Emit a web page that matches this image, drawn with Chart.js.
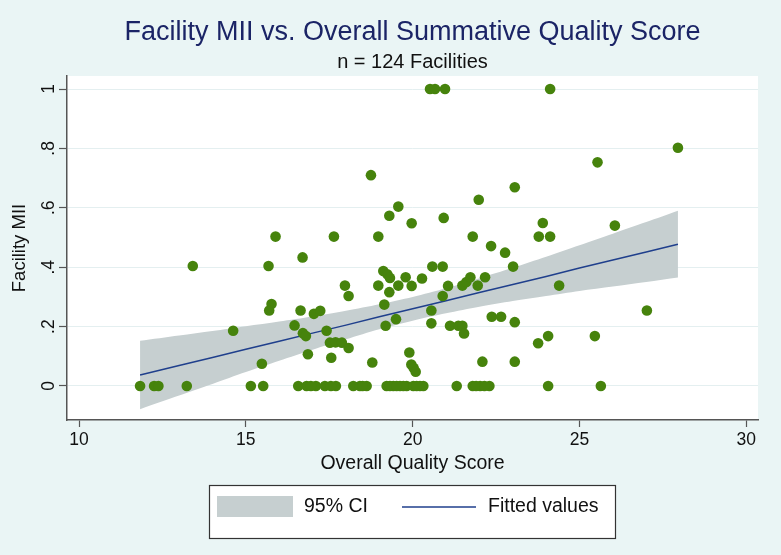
<!DOCTYPE html>
<html>
<head>
<meta charset="utf-8">
<title>Facility MII vs. Overall Summative Quality Score</title>
<script src="https://cdn.jsdelivr.net/npm/chart.js@4.4.0/dist/chart.umd.min.js"></script>
<style>
    html, body { margin: 0; padding: 0; background: #eaf5f5; }
    canvas { display: block; }
</style>
</head>
<body>
<canvas id="chart" width="781" height="555"></canvas>
<script>
// one facility per column: overall quality score (x) and facility MII (y)
const qualityScore = [
    13.41, 15.68, 16.70, 17.97, 18.08, 19.12, 19.24, 19.32, 19.79, 20.28,
    18.97, 19.57, 19.97, 19.30, 20.59, 15.77, 15.70, 16.64, 17.04, 17.23,
    19.15, 14.62, 16.46, 16.71, 16.80, 17.42, 19.19, 19.50, 17.52, 17.69,
    17.88, 18.08, 16.86, 17.56, 15.48, 18.79, 19.90, 19.96, 20.03, 20.09,
    20.56, 20.56, 18.75, 19.57, 19.30, 19.97, 15.89, 17.64, 18.97, 20.52,
    20.67, 20.97, 24.12, 27.95, 25.54, 23.06, 21.98, 20.93, 23.90, 26.06,
    21.80, 23.78, 24.12, 22.35, 22.77, 20.90, 23.01, 21.06, 21.49, 21.61,
    21.73, 21.95, 22.17, 20.90, 24.39, 27.02, 21.12, 21.37, 21.49, 21.54,
    22.37, 22.65, 23.06, 23.76, 24.06, 25.46, 22.09, 23.06,
    11.83, 12.25, 12.38, 13.23, 15.15, 15.52, 16.57, 16.82, 17.10, 17.37,
    17.70, 18.22, 18.42, 18.62, 19.22, 19.42, 19.62, 19.82, 20.02, 20.22,
    20.32, 21.32, 21.80, 22.02, 22.30, 24.06, 25.64, 16.95, 17.55, 18.50,
    19.32, 19.72, 20.12, 21.90, 22.15, 19.52
];
const facilityMII = [
    0.404, 0.404, 0.433, 0.338, 0.303, 0.387, 0.376, 0.364, 0.366, 0.362,
    0.338, 0.338, 0.337, 0.316, 0.402, 0.276, 0.254, 0.254, 0.243, 0.253,
    0.274, 0.186, 0.204, 0.178, 0.168, 0.186, 0.203, 0.225, 0.146, 0.147,
    0.146, 0.128, 0.107, 0.095, 0.075, 0.079, 0.113, 0.072, 0.061, 0.048,
    0.254, 0.211, 0.710, 0.604, 0.573, 0.548, 0.503, 0.503, 0.503, 1.000,
    1.000, 1.000, 1.000, 0.802, 0.753, 0.669, 0.627, 0.566, 0.549, 0.540,
    0.503, 0.503, 0.503, 0.471, 0.449, 0.402, 0.402, 0.337, 0.338, 0.350,
    0.366, 0.338, 0.366, 0.303, 0.338, 0.254, 0.203, 0.203, 0.203, 0.177,
    0.233, 0.233, 0.215, 0.144, 0.168, 0.168, 0.082, 0.082,
    0, 0, 0, 0, 0, 0, 0, 0, 0, 0,
    0, 0, 0, 0, 0, 0, 0, 0, 0, 0,
    0, 0, 0, 0, 0, 0, 0, 0, 0, 0,
    0, 0, 0, 0, 0, 0
];

// fitted line and 95% CI band
const fitX = [11.83, 13, 14, 15, 16, 17, 18, 19, 20, 21, 22, 23, 24, 25, 26, 27, 27.95];
const fitted = [0.037, 0.069, 0.096, 0.124, 0.151, 0.178, 0.205, 0.233, 0.260, 0.287, 0.315, 0.342, 0.369, 0.397, 0.424, 0.451, 0.477];
const ciLow = [-0.078, -0.032, 0.007, 0.047, 0.085, 0.122, 0.157, 0.191, 0.220, 0.245, 0.267, 0.286, 0.303, 0.320, 0.335, 0.350, 0.365];
const ciHigh = [0.152, 0.170, 0.185, 0.201, 0.217, 0.234, 0.253, 0.275, 0.300, 0.329, 0.363, 0.398, 0.435, 0.474, 0.513, 0.552, 0.590];

const xTicks = [10, 15, 20, 25, 30];
const yTicks = [0, 0.2, 0.4, 0.6, 0.8, 1];
const yTickLabels = ['0', '.2', '.4', '.6', '.8', '1'];

const FONT = '"Liberation Sans", Arial, Helvetica, sans-serif';
const axisColor = '#555';
const lineColor = '#1f3f8c';
const bandColor = '#c6cfd0';
const dotColor = '#46830c';

const pairs = (xs, ys) => xs.map((x, i) => ({ x, y: ys[i] }));

// light page, white plot region, titles and the boxed legend underneath
const stataFrame = {
    id: 'stataFrame',
    beforeDraw(chart) {
        const { ctx, chartArea: a } = chart;
        ctx.save();
        ctx.fillStyle = '#eaf5f5';
        ctx.fillRect(0, 0, chart.width, chart.height);
        ctx.fillStyle = '#ffffff';
        ctx.fillRect(a.left, a.top, a.right - a.left, a.bottom - a.top);
        ctx.restore();
    },
    afterDraw(chart) {
        const { ctx, chartArea: a } = chart;
        const cx = (a.left + a.right) / 2;
        ctx.save();
        ctx.textAlign = 'center';
        ctx.textBaseline = 'middle';
        ctx.fillStyle = '#1b2466';
        ctx.font = `27px ${FONT}`;
        ctx.fillText('Facility MII vs. Overall Summative Quality Score', cx, 33);
        ctx.fillStyle = '#111';
        ctx.font = `20px ${FONT}`;
        ctx.fillText('n = 124 Facilities', cx, 62);

        // legend
        ctx.fillStyle = '#fff';
        ctx.fillRect(209.5, 485.5, 406, 53);
        ctx.strokeStyle = '#333';
        ctx.lineWidth = 1.2;
        ctx.strokeRect(209.5, 485.5, 406, 53);
        ctx.fillStyle = bandColor;
        ctx.fillRect(217, 496, 76, 21);
        ctx.strokeStyle = lineColor;
        ctx.lineWidth = 1.5;
        ctx.beginPath();
        ctx.moveTo(402, 507);
        ctx.lineTo(476, 507);
        ctx.stroke();
        ctx.fillStyle = '#111';
        ctx.textAlign = 'left';
        ctx.font = `19.5px ${FONT}`;
        ctx.fillText('95% CI', 304, 507);
        ctx.fillText('Fitted values', 488, 507);
        ctx.restore();
    }
};

new Chart(document.getElementById('chart'), {
    type: 'scatter',
    data: {
        datasets: [
            {
                label: 'Facility MII',
                data: pairs(qualityScore, facilityMII),
                backgroundColor: dotColor,
                borderWidth: 0,
                pointRadius: 5.3
            },
            {
                type: 'line',
                label: 'Fitted values',
                data: pairs(fitX, fitted),
                borderColor: lineColor,
                borderWidth: 1.5,
                pointRadius: 0,
                fill: false
            },
            {
                type: 'line',
                label: 'CI low',
                data: pairs(fitX, ciLow),
                borderWidth: 0,
                pointRadius: 0,
                fill: false,
                tension: 0.3
            },
            {
                type: 'line',
                label: '95% CI',
                data: pairs(fitX, ciHigh),
                borderWidth: 0,
                pointRadius: 0,
                backgroundColor: bandColor,
                fill: '-1',
                tension: 0.3
            }
        ]
    },
    options: {
        responsive: false,
        animation: false,
        events: [],
        layout: { padding: { top: 76, right: 23, bottom: 76, left: 5 } },
        plugins: {
            legend: { display: false },
            title: { display: false },
            tooltip: { enabled: false }
        },
        scales: {
            x: {
                type: 'linear',
                min: 9.64,
                max: 30.35,
                afterBuildTicks: s => { s.ticks = xTicks.map(v => ({ value: v })); },
                afterFit: s => { s.height = 59; },
                grid: { drawOnChartArea: false, tickColor: axisColor, tickLength: 7, tickWidth: 1.2 },
                border: { color: axisColor, width: 1.5 },
                ticks: { color: '#111', font: { family: FONT, size: 17.5 }, padding: 3, maxRotation: 0 },
                title: { display: true, text: 'Overall Quality Score', color: '#111', font: { family: FONT, size: 19.5 } }
            },
            y: {
                type: 'linear',
                min: -0.1145,
                max: 1.0438,
                afterBuildTicks: s => { s.ticks = yTicks.map(v => ({ value: v })); },
                afterFit: s => { s.width = 62; },
                grid: { color: '#e4eff0', tickColor: axisColor, tickLength: 8, tickWidth: 1.2 },
                border: { color: axisColor, width: 1.5 },
                ticks: {
                    color: '#111',
                    font: { family: FONT, size: 17.5 },
                    padding: 3,
                    minRotation: 90,
                    maxRotation: 90,
                    crossAlign: 'center',
                    callback: (v, i) => yTickLabels[i]
                },
                title: { display: true, text: 'Facility MII', color: '#111', font: { family: FONT, size: 18.5 } }
            }
        }
    },
    plugins: [stataFrame]
});
</script>
</body>
</html>
